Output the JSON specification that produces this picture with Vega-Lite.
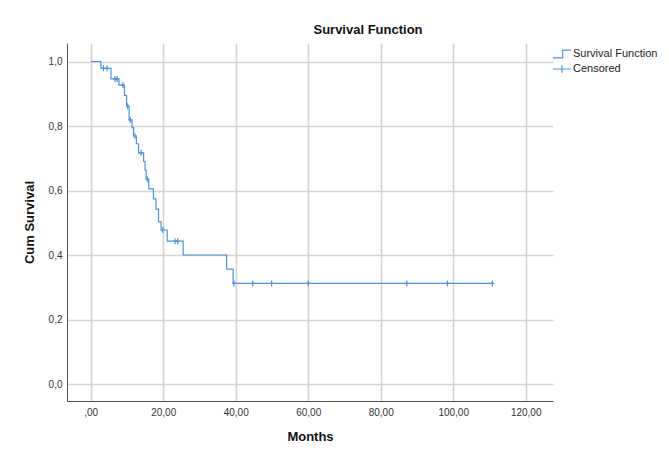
{
  "$schema": "https://vega.github.io/schema/vega-lite/v6.json",
  "width": 486,
  "height": 358,
  "autosize": {"type": "none"},
  "padding": {"left": 67, "top": 43, "right": 116, "bottom": 57},
  "background": "white",
  "title": {"text": "Survival Function", "anchor": "middle", "dx": 58, "offset": 6, "fontSize": 13, "fontWeight": "bold", "font": "Liberation Sans", "color": "#111"},
  "config": {
    "view": {"stroke": null},
    "axis": {"labelFont": "Liberation Sans", "labelFontSize": 10, "labelColor": "#333", "titleFont": "Liberation Sans", "titleFontSize": 13, "titleFontWeight": "bold", "titleColor": "#111", "ticks": false, "gridColor": "#d4d4d4", "gridWidth": 1.6, "domainColor": "#555", "domainWidth": 1}
  },
  "datasets": {
    "curve": [
      {"time": 0, "surv": 1.0},
      {"time": 2.8, "surv": 0.979},
      {"time": 5.6, "surv": 0.946},
      {"time": 7.8, "surv": 0.927},
      {"time": 9.3, "surv": 0.895},
      {"time": 9.9, "surv": 0.861},
      {"time": 10.6, "surv": 0.819},
      {"time": 11.4, "surv": 0.795},
      {"time": 11.8, "surv": 0.769},
      {"time": 12.6, "surv": 0.745},
      {"time": 13.2, "surv": 0.717},
      {"time": 14.6, "surv": 0.69},
      {"time": 15.0, "surv": 0.663},
      {"time": 15.3, "surv": 0.635},
      {"time": 16.0, "surv": 0.605},
      {"time": 17.3, "surv": 0.574},
      {"time": 18.0, "surv": 0.542},
      {"time": 18.7, "surv": 0.503},
      {"time": 19.4, "surv": 0.4775},
      {"time": 21.1, "surv": 0.443},
      {"time": 25.5, "surv": 0.4},
      {"time": 37.5, "surv": 0.356},
      {"time": 39.3, "surv": 0.312},
      {"time": 110.8, "surv": 0.312}
    ],
    "censored": [
      {"time": 3.5, "surv": 0.979, "series": "Censored"},
      {"time": 4.5, "surv": 0.979, "series": "Censored"},
      {"time": 6.7, "surv": 0.946, "series": "Censored"},
      {"time": 7.3, "surv": 0.946, "series": "Censored"},
      {"time": 8.9, "surv": 0.927, "series": "Censored"},
      {"time": 10.2, "surv": 0.861, "series": "Censored"},
      {"time": 10.9, "surv": 0.819, "series": "Censored"},
      {"time": 12.2, "surv": 0.769, "series": "Censored"},
      {"time": 13.9, "surv": 0.717, "series": "Censored"},
      {"time": 15.6, "surv": 0.635, "series": "Censored"},
      {"time": 19.9, "surv": 0.4775, "series": "Censored"},
      {"time": 23.3, "surv": 0.443, "series": "Censored"},
      {"time": 24.0, "surv": 0.443, "series": "Censored"},
      {"time": 39.5, "surv": 0.312, "series": "Censored"},
      {"time": 44.7, "surv": 0.312, "series": "Censored"},
      {"time": 49.9, "surv": 0.312, "series": "Censored"},
      {"time": 60.0, "surv": 0.312, "series": "Censored"},
      {"time": 87.2, "surv": 0.312, "series": "Censored"},
      {"time": 98.4, "surv": 0.312, "series": "Censored"},
      {"time": 110.8, "surv": 0.312, "series": "Censored"}
    ]
  },
  "encoding": {
    "x": {"field": "time", "type": "quantitative", "scale": {"domain": [-6.54, 127.53], "nice": false, "zero": false},
      "axis": {"title": "Months", "values": [0, 20, 40, 60, 80, 100, 120], "labelExpr": "datum.value == 0 ? ',00' : replace(format(datum.value, '.2f'), '.', ',')", "labelPadding": 6, "titlePadding": 13}},
    "y": {"field": "surv", "type": "quantitative", "scale": {"domain": [-0.0527, 1.0574], "nice": false, "zero": false},
      "axis": {"title": "Cum Survival", "values": [0, 0.2, 0.4, 0.6, 0.8, 1.0], "labelExpr": "replace(format(datum.value, '.1f'), '.', ',')", "labelPadding": 5, "titlePadding": 12}}
  },
  "layer": [
    {
      "data": {"name": "curve"},
      "mark": {"type": "line", "interpolate": "step-after", "color": "#4f93dc", "strokeWidth": 1.2}
    },
    {
      "data": {"name": "censored"},
      "mark": {"type": "point", "shape": "M-0.6,0L0.6,0M0,-1L0,1", "size": 36, "filled": false, "strokeWidth": 1.2, "opacity": 1, "color": "#4f93dc"}
    },
    {
      "data": {"name": "censored"},
      "mark": {"type": "point", "filled": false, "opacity": 0, "strokeWidth": 1.2},
      "encoding": {
        "color": {"field": "series", "type": "nominal",
          "scale": {"domain": ["Survival Function", "Censored"], "range": ["#4f93dc", "#4f93dc"]},
          "legend": {"title": null, "orient": "none", "legendX": 487, "legendY": 3, "symbolSize": 196, "symbolStrokeWidth": 1.2, "symbolFillColor": "transparent", "symbolOpacity": 1, "labelFont": "Liberation Sans", "labelFontSize": 11, "labelColor": "#222", "labelOffset": 3, "rowPadding": -1}},
        "shape": {"field": "series", "type": "nominal",
          "scale": {"domain": ["Survival Function", "Censored"], "range": ["M-1.3,0.55L0.1,0.55L0.1,-0.55L1.3,-0.55", "M-1.3,0L1.3,0M0,-0.55L0,0.55"]},
          "legend": {"title": null, "orient": "none", "legendX": 487, "legendY": 3, "symbolSize": 196, "symbolStrokeWidth": 1.2, "symbolFillColor": "transparent", "symbolOpacity": 1, "labelFont": "Liberation Sans", "labelFontSize": 11, "labelColor": "#222", "labelOffset": 3, "rowPadding": -1}}
      }
    }
  ]
}
